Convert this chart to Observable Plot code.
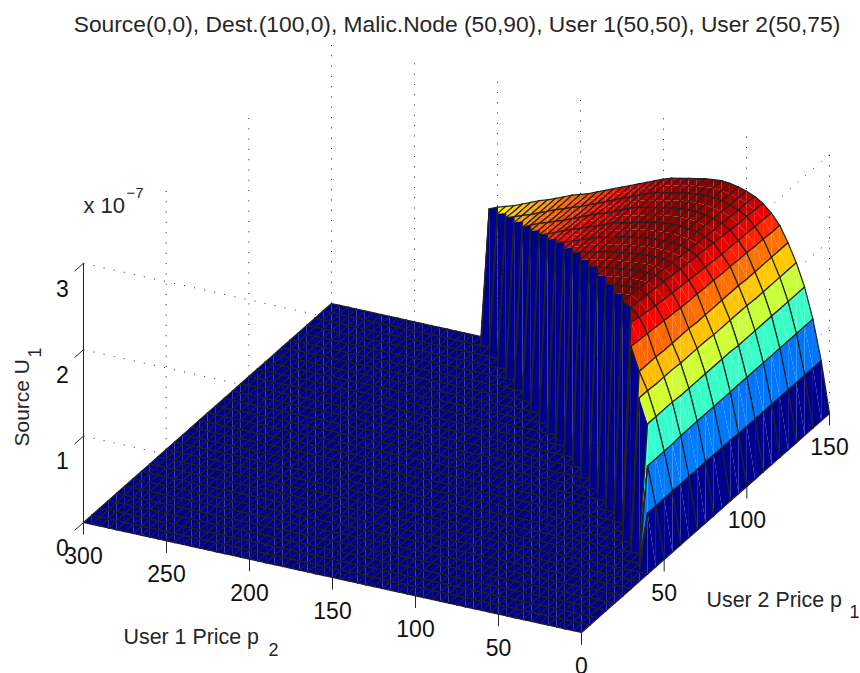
<!DOCTYPE html>
<html><head><meta charset="utf-8">
<script src="https://cdn.jsdelivr.net/npm/d3@7"></script>
<script src="https://cdn.jsdelivr.net/npm/@observablehq/plot@0.6"></script>
<style>html,body{margin:0;padding:0;background:#fff}svg{display:block}</style>
</head><body><div id="chart"></div>
<script>
const titleText = "Source(0,0), Dest.(100,0), Malic.Node (50,90), User 1(50,50), User 2(50,75)";
const p1Ticks = [0, 50, 100, 150];
const p2Ticks = [0, 50, 100, 150, 200, 250, 300];
const zTicks = [0, 1, 2, 3];
const p1Grid = [0,5,10,15,20,25,30,35,40,45,50,55,60,65,70,75,80,85,90,95,100,105,110,115,120,125,130,135,140,145,150];
const p2Grid = [0,5,10,15,20,25,30,35,40,45,50,55,60,65,70,75,80,85,90,95,100,105,110,115,120,125,130,135,140,145,150,155,160,165,170,175,180,185,190,195,200,205,210,215,220,225,230,235,240,245,250,255,260,265,270,275,280,285,290,295,300];
// Source U1 in units of 1e-9. One row per p2 = 5, 10, ... 205;
// every row runs in steps of 5 in p1 and ends at p1 = 150. All else on the grid is 0.
const u1Rows = [
[60,60,60,60,60,60,60,60,60,60,60,59,59,59,59,59,59,59,59,59,59,59],
[104,104,104,104,105,105,105,105,105,105,105,105,105,105,105,105,105,105,105,105,105],
[142,142,142,142,141,141,141,141,141,141,141,140,140,140,140,140,140,140,140,140],
[170,170,169,169,169,168,168,168,168,167,167,167,167,167,166,166,166,166,166,166],
[190,190,190,189,189,189,189,188,188,188,188,188,188,187,187,187,187,187,187],
[217,216,215,214,213,212,211,210,210,209,209,208,208,207,207,206,206,205,205],
[234,232,230,228,227,226,225,224,223,222,221,220,220,219,219,218,218,217],
[241,240,239,238,237,236,235,234,233,232,231,230,229,228,228,227,226],
[246,245,244,243,242,241,240,239,238,237,236,235,235,234,233,233,232],
[244,244,243,243,242,242,241,241,240,240,239,238,238,237,237,236],
[243,243,243,243,243,242,242,242,241,241,241,240,240,240,239,239],
[242,242,242,242,242,242,242,242,242,242,242,241,241,241,241],
[240,241,241,241,241,242,242,242,242,242,242,242,242,242,242],
[239,240,240,240,240,241,241,241,241,241,241,241,241,241],
[238,238,239,239,239,239,240,240,240,240,240,240,240,240],
[237,237,237,238,238,238,238,238,238,238,238,238,238],
[235,235,236,236,236,236,236,236,236,236,236,236,236],
[233,233,233,233,233,233,233,234,234,234,234,234],
[231,231,231,231,231,231,231,232,232,232,232,232],
[229,229,229,229,229,229,229,229,229,229,229],
[225,225,225,225,225,225,225,225,225,225,225],
[222,222,222,221,221,221,221,221,221,221],
[218,218,218,218,218,217,217,217,217,217],
[215,215,214,214,214,213,213,213,213],
[212,212,211,211,210,209,209,209,209],
[207,207,206,206,205,205,205,205],
[203,203,202,202,201,201,201,201],
[199,199,198,198,197,197,197],
[196,195,195,194,194,193,193],
[191,191,190,190,190,190],
[188,188,187,187,187,187],
[184,184,183,183,183],
[179,179,179,179,179],
[176,175,175,175],
[172,172,172,172],
[168,168,168],
[165,164,164],
[160,160],
[157,157],
[154],
[150]
];

// The camera: an orthographic view, in page pixels per data unit.
const view = {x0: 581, y0: 632, xP1: 1.6533, xP2: -1.66, yP1: -1.46, yP2: -0.3667, yZ: -86.4};
const vx = (p1, p2) => view.x0 + view.xP1 * p1 + view.xP2 * p2;
const vy = (p1, p2, z) => view.y0 + view.yP1 * p1 + view.yP2 * p2 + view.yZ * z;

function u1(p1, p2) {
  const row = u1Rows[p2 / 5 - 1];
  if (!row) return 0;
  const k = row.length - 1 - (150 - p1) / 5;
  return k >= 0 ? row[k] / 100 : 0;
}

const cells = [];
for (let i = 0; i < p1Grid.length - 1; i++) for (let j = 0; j < p2Grid.length - 1; j++) cells.push([i, j]);
cells.sort((a, b) => (b[0] + b[1]) - (a[0] + a[1]) || b[0] - a[0]);

const meshWidth = 1.2;
// A line of constant p1 is only ruled every 10 units where the surface climbs out of the floor.
function ruled(p1, p2a, p2b) {
  const za = u1(p1, p2a), zb = u1(p1, p2b);
  if (za > 0 && zb === 0) return true;
  if (za === 0 && zb === 0) return true;
  return p1 % 10 === 0;
}

const faces = [];
let id = 0;
cells.forEach(([i, j]) => {
  const a = [p1Grid[i], p2Grid[j]], b = [p1Grid[i + 1], p2Grid[j]],
        c = [p1Grid[i + 1], p2Grid[j + 1]], d = [p1Grid[i], p2Grid[j + 1]];
  const shade = u1(a[0], a[1]);
  const put = (pts, width) => {
    id++;
    pts.forEach(([p1, p2]) => faces.push({face: id, x: vx(p1, p2), y: vy(p1, p2, u1(p1, p2)), shade, width}));
  };
  put([a, b, c], 0);
  put([c, d, a], 0);
  put([a, b], meshWidth);
  put([d, c], meshWidth);
  if (ruled(a[0], a[1], d[1])) put([a, d], meshWidth);
  if (ruled(b[0], b[1], c[1])) put([b, c], meshWidth);
});

const zTop = zTicks[zTicks.length - 1], p1Max = 150, p2Max = 300;
const link = (p1a, p2a, za, p1b, p2b, zb) => ({x1: vx(p1a, p2a), y1: vy(p1a, p2a, za), x2: vx(p1b, p2b), y2: vy(p1b, p2b, zb)});
const grid = [
  ...p1Ticks.filter(t => t > 0).map(t => link(t, p2Max, 0, t, p2Max, zTop)),
  ...p2Ticks.filter(t => t < p2Max).map(t => link(p1Max, t, 0, p1Max, t, zTop)),
  ...zTicks.filter(t => t > 0).flatMap(t => [link(0, p2Max, t, 0, 0, t), link(0, 0, t, p1Max, 0, t)])
];
const tickDown = 0.14, tickSide = 5.4;
const ticks = [
  ...p1Ticks.map(t => link(t, 0, 0, t, 0, -tickDown)),
  ...p2Ticks.map(t => link(0, t, 0, 0, t, -tickDown)),
  ...zTicks.map(t => link(0, p2Max, t, -tickSide, p2Max, t)),
  link(0, p2Max, 0, 0, p2Max, zTop)
];

const font = "Liberation Sans, Arial, Helvetica, sans-serif";
const tickFont = {fontFamily: font, fontSize: 23, fill: "#111", lineAnchor: "middle"};
const label = (text, x, y, o = {}) => Plot.text([text], {x: () => x, y: () => y, text: d => d, fontFamily: font, fontSize: 21.4, fill: "#262626", lineAnchor: "middle", textAnchor: "start", ...o});

const chart = Plot.plot({
  width: 860, height: 673, margin: 0,
  style: {background: "#fff"},
  x: {domain: [0, 860], range: [0, 860], axis: null},
  y: {domain: [0, 673], range: [0, 673], axis: null},
  color: {type: "linear", interpolate: "rgb", clamp: true,
    domain: [0, 0.306, 0.919, 1.531, 2.144, 2.45],
    range: ["#00008f", "#0000ff", "#00ffff", "#ffff00", "#ff0000", "#800000"]},
  marks: [
    Plot.link(grid, {x1: "x1", y1: "y1", x2: "x2", y2: "y2", stroke: "#222", strokeWidth: 1, strokeDasharray: "1 9.3"}),
    Plot.link(ticks, {x1: "x1", y1: "y1", x2: "x2", y2: "y2", stroke: "#262626", strokeWidth: 1}),
    Plot.line(faces, {x: "x", y: "y", z: "face", fill: "shade", stroke: "#222", strokeWidth: "width", strokeLinejoin: "round"}),
    Plot.text(p2Ticks, {x: t => vx(0, t), y: t => vy(0, t, 0) + 34, text: String, ...tickFont}),
    Plot.text(p1Ticks.filter(t => t > 0), {x: t => vx(t, 0), y: t => vy(t, 0, 0) + 34, text: String, ...tickFont}),
    Plot.text(zTicks, {x: () => 62, y: t => vy(0, p2Max, t) + 26, text: String, ...tickFont}),
    label(titleText, 456.5, 24, {textAnchor: "middle", fontSize: 22.8}),
    label("x 10", 83, 205, {fontSize: 22}),
    label("\u22127", 126, 193, {fontSize: 15}),
    label("Source U", 22, 446, {rotate: -90, fontSize: 21}),
    label("1", 35, 357, {rotate: -90, fontSize: 18}),
    label("User 1 Price p", 123, 637),
    label("2", 268, 650, {fontSize: 18}),
    label("User 2 Price p", 706, 600),
    label("1", 849, 612, {fontSize: 18})
  ]
});
document.getElementById("chart").append(chart);
</script></body></html>
